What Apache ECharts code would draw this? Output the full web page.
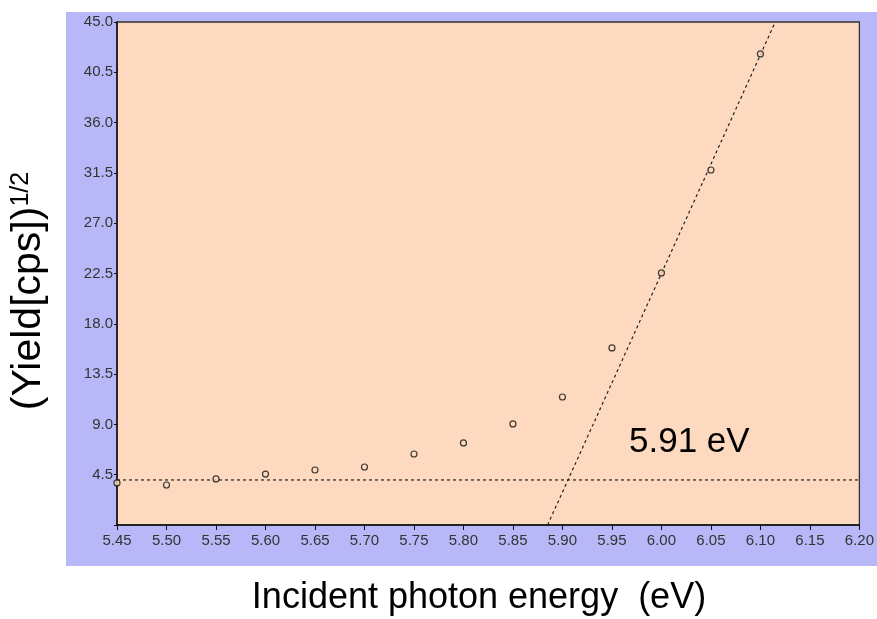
<!DOCTYPE html>
<html>
<head>
<meta charset="utf-8">
<script src="https://cdn.jsdelivr.net/npm/echarts@6/dist/echarts.min.js"></script>
<style>html,body{margin:0;padding:0;background:#fff;}#c{width:877px;height:619px;}</style>
</head>
<body>
<div id="c"></div>
<script>
// Data
const energies = [5.45, 5.50, 5.55, 5.60, 5.65, 5.70, 5.75, 5.80, 5.85, 5.90, 5.95, 6.00, 6.05, 6.10];
const yields   = [3.76, 3.58, 4.12, 4.56, 4.92, 5.19, 6.35, 7.34, 9.04, 11.45, 15.84, 22.55, 31.76, 42.14];
const baselineX = [5.45, 6.20];
const baselineY = [4.03, 4.03];
const fitX = [5.885, 6.115];
const fitY = [0, 45];
const xTicks = {min: 5.45, max: 6.20, step: 0.05};
const yTicks = {min: 0, max: 45, step: 4.5};
const thresholdLabel = '5.91 eV';
const xTitle = 'Incident photon energy  (eV)';
const yTitleMain = '(Yield[cps])';
const yTitleSup = '1/2';

const chart = echarts.init(document.getElementById('c'), null, {renderer: 'canvas'});
const font = 'Liberation Sans, Arial, Helvetica, sans-serif';
const dash = {color: '#222', width: 1.2, type: [3, 3]};

chart.setOption({
  animation: false,
  backgroundColor: '#ffffff',
  graphic: [
    {type: 'rect', z: -10, shape: {x: 66, y: 12, width: 811, height: 554}, style: {fill: '#b8b8f8'}},
    {type: 'text', x: 629, y: 442, z: 100,
     style: {text: thresholdLabel, font: '35px ' + font, fill: '#000', textAlign: 'left', textVerticalAlign: 'middle'}},
    {type: 'text', x: 479, y: 598, z: 100,
     style: {text: xTitle, font: '36px ' + font, fill: '#000', textAlign: 'center', textVerticalAlign: 'middle'}},
    {type: 'text', x: 29, y: 291, rotation: Math.PI / 2, z: 100,
     style: {text: '{a|' + yTitleMain + '}{b|' + yTitleSup + '}', textAlign: 'center', textVerticalAlign: 'middle',
       rich: {a: {fontSize: 41, fontFamily: font, color: '#000'},
              b: {fontSize: 25, fontFamily: font, color: '#000', verticalAlign: 'top'}}}}
  ],
  grid: {left: 117, top: 22, right: 14, bottom: 94, show: true, backgroundColor: '#fdd9bf', borderColor: '#333', borderWidth: 1.3},
  xAxis: {
    type: 'value', min: xTicks.min, max: xTicks.max, interval: xTicks.step,
    axisLine: {show: true, lineStyle: {color: '#111', width: 1.5}},
    axisTick: {show: true, length: 5, lineStyle: {color: '#111'}},
    splitLine: {show: false},
    axisLabel: {color: '#333', fontSize: 15, fontFamily: font, margin: 8, formatter: v => v.toFixed(2)}
  },
  yAxis: {
    type: 'value', min: yTicks.min, max: yTicks.max, interval: yTicks.step,
    axisLine: {show: true, lineStyle: {color: '#111', width: 1.5}},
    axisTick: {show: true, length: 3, lineStyle: {color: '#111'}},
    splitLine: {show: false},
    axisLabel: {color: '#333', fontSize: 15, fontFamily: font, margin: 4, formatter: v => v === 0 ? '' : v.toFixed(1)}
  },
  series: [
    {type: 'line', data: baselineX.map((x, i) => [x, baselineY[i]]), symbol: 'none', lineStyle: dash, z: 3, silent: true},
    {type: 'line', data: fitX.map((x, i) => [x, fitY[i]]), symbol: 'none', lineStyle: dash, z: 3, silent: true},
    {type: 'scatter', data: energies.map((x, i) => [x, yields[i]]), symbol: 'circle', symbolSize: 6,
     itemStyle: {color: '#fdd9bf', borderColor: '#111', borderWidth: 1.2}, z: 5}
  ]
});
</script>
</body>
</html>
